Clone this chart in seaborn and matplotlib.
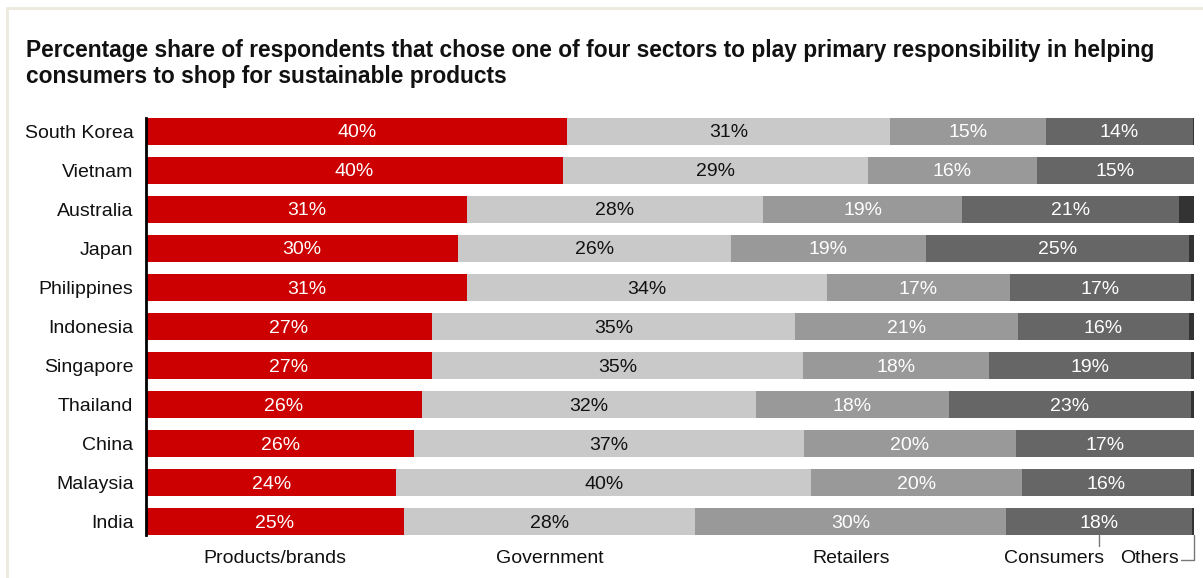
import matplotlib
matplotlib.use("Agg")
import matplotlib.pyplot as plt
from matplotlib.lines import Line2D
import numpy as np
import pandas as pd
import seaborn as sns

countries = ["South Korea", "Vietnam", "Australia", "Japan", "Philippines", "Indonesia",
             "Singapore", "Thailand", "China", "Malaysia", "India"]
sectors = ["Products/brands", "Government", "Retailers", "Consumers", "Others"]

products = [40.2, 39.8, 30.6, 29.8, 30.6, 27.3, 27.3, 26.3, 25.6, 23.9, 24.6]
government = [30.8, 29.1, 28.3, 26.0, 34.4, 34.6, 35.4, 31.9, 37.2, 39.6, 27.8]
retailers = [14.9, 16.1, 19.0, 18.6, 17.4, 21.3, 17.7, 18.4, 20.2, 20.1, 29.7]
consumers = [14.0, 15.0, 20.7, 25.1, 17.3, 16.3, 19.3, 23.1, 17.0, 16.1, 17.7]
others = [0.1, 0.0, 1.4, 0.5, 0.3, 0.5, 0.3, 0.3, 0.0, 0.3, 0.2]

colors = ["#CC0000", "#C9C9C9", "#999999", "#666666", "#333333"]
label_colors = ["white", "#111111", "white", "white", None]

sns.set_theme(style="white")
plt.rcParams["font.family"] = ["Liberation Sans", "DejaVu Sans"]

df = pd.DataFrame({"country": countries, "Products/brands": products, "Government": government,
                   "Retailers": retailers, "Consumers": consumers, "Others": others})
cum = df[sectors].cumsum(axis=1)
starts = cum - df[sectors]

W, H = 1203, 578
fig = plt.figure(figsize=(W / 100, H / 100), dpi=100)
ax = fig.add_axes([146 / W, 1 - 535 / H, (1194 - 146) / W, (535 - 118) / H])

BAR_H = 0.68
# stacked bars: draw cumulative totals from the outermost segment inward
for i in range(len(sectors) - 1, -1, -1):
    plot_df = pd.DataFrame({"country": countries, "value": cum[sectors[i]].values})
    sns.barplot(data=plot_df, x="value", y="country", orient="h", color=colors[i],
                saturation=1, width=BAR_H, linewidth=0, order=countries, ax=ax)

ax.set_xlim(0, 100)
ax.set_ylim(len(countries) - 1 + BAR_H / 2, -BAR_H / 2)
ax.set_xlabel("")
ax.set_ylabel("")
ax.set_xticks([])
for s in ["top", "right", "bottom"]:
    ax.spines[s].set_visible(False)
ax.spines["left"].set_color("black")
ax.spines["left"].set_linewidth(2)
ax.tick_params(axis="y", length=0, pad=9, labelsize=14, labelcolor="#111111")

# value labels in each segment
for r in range(len(countries)):
    for i, sec in enumerate(sectors[:4]):
        v = df.loc[r, sec]
        cx = starts.loc[r, sec] + v / 2
        ax.text(cx, r + 0.04, f"{v:.0f}%", ha="center", va="center", fontsize=14,
                color=label_colors[i])

# segment names under the last bar
last = len(countries) - 1
bottom = last + BAR_H / 2
name_y = bottom + 0.6
for sec in sectors[:3]:
    cx = starts.loc[last, sec] + df.loc[last, sec] / 2
    ax.text(cx, name_y, sec, ha="center", va="center", fontsize=14, color="#111111",
            clip_on=False)

c_mid = starts.loc[last, "Consumers"] + df.loc[last, "Consumers"] / 2
ax.plot([c_mid, c_mid], [bottom, bottom + 0.28], color="#777777", lw=1, clip_on=False)
ax.text(c_mid + 0.5, name_y, "Consumers", ha="right", va="center", fontsize=14,
        color="#111111", clip_on=False)

o_end = cum.loc[last, "Others"]
ax.plot([o_end, o_end, o_end - 1.2], [bottom, name_y + 0.05, name_y + 0.05],
        color="#777777", lw=1, clip_on=False)
ax.text(o_end - 1.4, name_y, "Others", ha="right", va="center", fontsize=14,
        color="#111111", clip_on=False)

fig.text(26 / W, 1 - 39 / H,
         "Percentage share of respondents that chose one of four sectors to play primary responsibility in helping\n"
         "consumers to shop for sustainable products",
         ha="left", va="top", fontsize=16.4, fontweight="bold", color="#111111", linespacing=1.15)

# thin frame lines along the top and left edges
fig.add_artist(Line2D([7 / W, 1], [1 - 8 / H, 1 - 8 / H], color="#ECE9DE", lw=2))
fig.add_artist(Line2D([7 / W, 7 / W], [0, 1 - 8 / H], color="#ECE9DE", lw=2))

fig.savefig("out.png", dpi=100, facecolor="white")
